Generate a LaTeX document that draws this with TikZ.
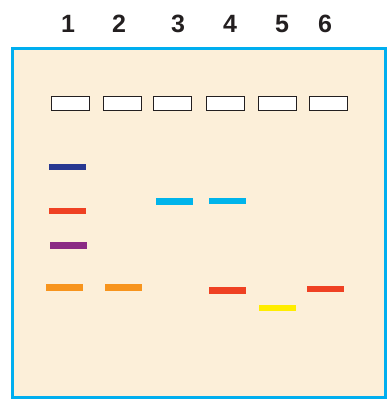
\documentclass[tikz,border=0pt]{standalone}
\usepackage{fontspec}
\setmainfont{Liberation Sans}
\definecolor{gel}{HTML}{FCEFD9}
\definecolor{gelborder}{HTML}{00AEEF}
\definecolor{ink}{HTML}{231F20}
\definecolor{navy}{HTML}{283891}
\definecolor{bred}{HTML}{EF4123}
\definecolor{bpurple}{HTML}{8B2A84}
\definecolor{borange}{HTML}{F7941D}
\definecolor{bcyan}{HTML}{00B4EB}
\definecolor{byellow}{HTML}{FFED00}
\tikzset{
  lanelabel/.style={text=ink, font=\fontsize{25}{25}\selectfont\bfseries, inner sep=0pt},
  well/.style={draw=ink, fill=white, line width=1.1pt, minimum width=38pt, minimum height=14.5pt, inner sep=0pt},
  band/.style={minimum width=37pt, minimum height=6.5pt, inner sep=0pt, draw=none},
}
\begin{document}
\begin{tikzpicture}[x=1pt,y=-1pt]
\useasboundingbox (0,0) rectangle (387,400);
\fill[white] (0,0) rectangle (387,400);
\draw[gelborder, fill=gel, line width=3pt] (12.5,48) rectangle (385.5,397.5);
% lane labels
\node[lanelabel] (l1) at (68,24) {1};
\node[lanelabel] (l2) at (119,24) {2};
\node[lanelabel] (l3) at (178,24) {3};
\node[lanelabel] (l4) at (230,24) {4};
\node[lanelabel] (l5) at (282,24) {5};
\node[lanelabel] (l6) at (325,24) {6};
% wells
\node[well] (w1) at (70.5,103.5) {};
\node[well] (w2) at (122.5,103.5) {};
\node[well] (w3) at (172.5,103.5) {};
\node[well] (w4) at (225.5,103.5) {};
\node[well] (w5) at (277.5,103.5) {};
\node[well] (w6) at (328.5,103.5) {};
% bands
\node[band, fill=navy] (b1a) at (67.5,167) {};
\node[band, fill=bred] (b1b) at (67.5,211) {};
\node[band, fill=bpurple] (b1c) at (68,245.5) {};
\node[band, fill=borange] (b1d) at (64.5,287.5) {};
\node[band, fill=borange] (b2a) at (123.5,287.5) {};
\node[band, fill=bcyan] (b3a) at (174,201.5) {};
\node[band, fill=bcyan] (b4a) at (227.5,201) {};
\node[band, fill=bred] (b4b) at (227.5,290.5) {};
\node[band, fill=byellow] (b5a) at (277.5,308) {};
\node[band, fill=bred] (b6a) at (325.5,289) {};
\end{tikzpicture}
\end{document}
